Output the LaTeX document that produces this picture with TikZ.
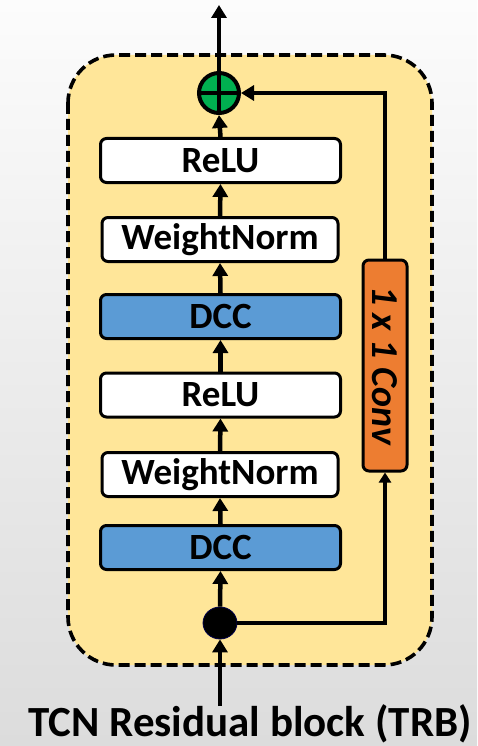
\documentclass[tikz,border=0pt]{standalone}
\usepackage{fontspec}
\setmainfont{Carlito}
\usetikzlibrary{arrows.meta,shapes.geometric}
\definecolor{blockfill}{HTML}{FFE699}
\definecolor{dccblue}{HTML}{5B9BD5}
\definecolor{convorange}{HTML}{ED7D31}
\definecolor{addgreen}{HTML}{00B050}
\definecolor{bgtop}{HTML}{FCFCFC}
\definecolor{bgbottom}{HTML}{DCDCDC}
\tikzset{
  layer/.style={draw=black, line width=3pt, rounded corners=6pt,
    minimum width=240pt, minimum height=44pt, inner sep=0pt,
    font=\bfseries\fontsize{37}{40}\selectfont},
  plainlayer/.style={layer, fill=white},
  dcclayer/.style={layer, fill=dccblue},
  flow/.style={line width=4.5pt, -{Triangle[width=15pt,length=13pt]}},
  link/.style={line width=3.5pt},
}
\begin{document}
\begin{tikzpicture}[x=1pt,y=-1pt]
  % page background
  \shade[top color=bgtop, bottom color=bgbottom] (0,0) rectangle (477,746);
  \useasboundingbox (0,0) rectangle (477,746);

  % residual block frame
  \draw[fill=blockfill, line width=3.6pt, dash pattern=on 11pt off 5pt,
        rounded corners=48pt] (68,55) rectangle (432,665);

  % layer stack
  \node[plainlayer] (relu1) at (220.5,160.5) {ReLU};
  \node[plainlayer, minimum width=236pt] (wn1) at (220,239.5) {WeightNorm};
  \node[dcclayer] (dcc1) at (220.5,316.5) {DCC};
  \node[plainlayer] (relu2) at (220.5,395) {ReLU};
  \node[plainlayer, minimum width=236pt] (wn2) at (220,474.5) {WeightNorm};
  \node[dcclayer] (dcc2) at (220.5,547.5) {DCC};

  % 1x1 convolution on the skip path (text runs top to bottom)
  \node[draw=black, line width=3pt, fill=convorange, rounded corners=6pt,
        minimum width=211pt, minimum height=44pt, inner sep=0pt,
        rotate=-90, font=\bfseries\itshape\fontsize{38}{40}\selectfont]
        (conv) at (385,365.5) {1 x 1 Conv};

  % input split point and addition
  \node[ellipse, fill=black, draw=black!70!blue, line width=0.8pt,
        minimum width=34pt, minimum height=32pt, inner sep=0pt] (split) at (220,623) {};
  \node[circle, fill=addgreen, draw=black, line width=4pt,
        minimum size=40pt, inner sep=0pt] (add) at (219,93) {};
  \draw[line width=4pt] (add.north) -- (add.south) (add.west) -- (add.east);

  % input and output terminals
  \coordinate (in) at (220,706);
  \coordinate (out) at (219,5);
  \coordinate (skipbot) at (385,623);
  \coordinate (skiptop) at (385,93);

  % main path
  \draw[flow] (in) -- (split.south);
  \draw[flow] (split.north) -- (dcc2.south);
  \draw[flow] (dcc2.north) -- (wn2.south);
  \draw[flow] (wn2.north) -- (relu2.south);
  \draw[flow] (relu2.north) -- (dcc1.south);
  \draw[flow] (dcc1.north) -- (wn1.south);
  \draw[flow] (wn1.north) -- (relu1.south);
  \draw[flow] (relu1.north) -- (add.south);
  \draw[flow] (add.north) -- (out);

  % skip path
  \draw[link, -{Triangle[width=12pt,length=10pt]}] (split.east) -- (skipbot) -- (conv.east);
  \draw[link, -{Triangle[width=15pt,length=13pt]}] (conv.west) -- (skiptop) -- (add.east);

  % caption
  \node[anchor=base, font=\bfseries\fontsize{43}{45}\selectfont] (title) at (250,736)
    {TCN Residual block (TRB)};
\end{tikzpicture}
\end{document}
